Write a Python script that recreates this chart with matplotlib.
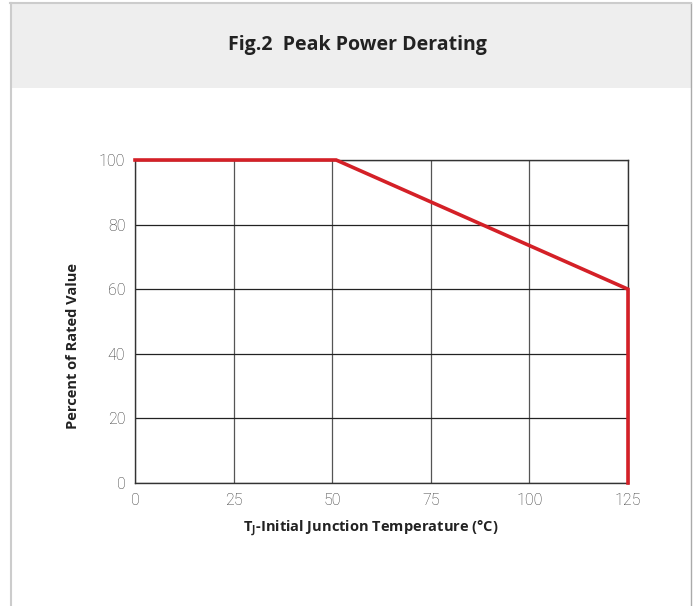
import matplotlib.pyplot as plt
from matplotlib.patches import Rectangle
from matplotlib.lines import Line2D

# derating curve
temp = [0, 51, 125, 125]
percent = [100, 100, 60, 0]
xticks = [0, 25, 50, 75, 100, 125]
yticks = [0, 20, 40, 60, 80, 100]

W, H = 696, 606
fig = plt.figure(figsize=(W / 100, H / 100), dpi=100)

# frame and header band
fig.patches.append(Rectangle((10 / W, 1 - 88 / H), 681 / W, 85 / H, transform=fig.transFigure,
                             facecolor='#eeeeee', edgecolor='none', zorder=0))
fig.lines.append(Line2D([10.5 / W, 10.5 / W], [0, 1 - 3 / H], transform=fig.transFigure, color='#cccccc', lw=1.5))
fig.lines.append(Line2D([691 / W, 691 / W], [0, 1 - 3 / H], transform=fig.transFigure, color='#aaaaaa', lw=1))
fig.lines.append(Line2D([10 / W, 691 / W], [1 - 3 / H, 1 - 3 / H], transform=fig.transFigure, color='#cccccc', lw=1.5))
fig.text(357 / W, 1 - 45 / H, 'Fig.2  Peak Power Derating', ha='center', va='center',
         fontsize=14, fontweight='bold', family='Open Sans', color='#222222')

ax = fig.add_axes([135 / W, 1 - 483 / H, 493 / W, 323 / H])
ax.plot(temp, percent, color='#d42027', lw=2.6, solid_joinstyle='miter', clip_on=False, zorder=5)
ax.set_xlim(0, 125)
ax.set_ylim(0, 100)
ax.set_xticks(xticks)
ax.set_yticks(yticks)
ax.grid(True, axis='y', color='#222222', lw=0.9)
ax.grid(True, axis='x', color='#555555', lw=0.9)
for s in ax.spines.values():
    s.set_color('#333333')
    s.set_linewidth(1)
ax.tick_params(length=0, labelsize=11.5, labelcolor='#333333', pad=7)
for lab in ax.get_xticklabels() + ax.get_yticklabels():
    lab.set_family('Roboto')
    lab.set_fontweight('light')

fig.text(73 / W, 1 - 346 / H, 'Percent of Rated Value', rotation=90, ha='center', va='center',
         fontsize=10.5, fontweight='bold', family='Open Sans', color='#222222')
fig.text(371 / W, 1 - 529 / H, 'T$_{\\mathregular{J}}$-Initial Junction Temperature (°C)',
         ha='center', va='center', fontsize=10.5, fontweight='bold', family='Open Sans', color='#222222')

fig.savefig('out.png', dpi=100)
